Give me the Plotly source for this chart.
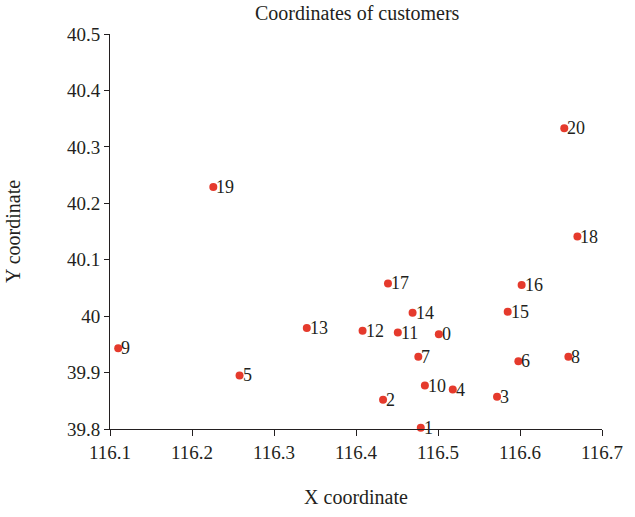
import plotly.graph_objects as go

ids = [str(i) for i in range(21)]
x_vals = [116.501, 116.479, 116.433, 116.572, 116.518, 116.258, 116.598, 116.476,
          116.659, 116.110, 116.484, 116.451, 116.408, 116.340, 116.469, 116.585,
          116.602, 116.439, 116.670, 116.226, 116.654]
y_vals = [39.968, 39.802, 39.852, 39.857, 39.870, 39.895, 39.920, 39.928,
          39.928, 39.943, 39.877, 39.971, 39.974, 39.979, 40.006, 40.008,
          40.055, 40.058, 40.141, 40.229, 40.333]

x_ticks = [116.1, 116.2, 116.3, 116.4, 116.5, 116.6, 116.7]
x_tick_text = ["116.1", "116.2", "116.3", "116.4", "116.5", "116.6", "116.7"]
y_ticks = [39.8, 39.9, 40.0, 40.1, 40.2, 40.3, 40.4, 40.5]
y_tick_text = ["39.8", "39.9", "40", "40.1", "40.2", "40.3", "40.4", "40.5"]

FONT = "Liberation Serif"
INK = "#231f20"

fig = go.Figure()
fig.add_trace(go.Scatter(
    x=x_vals, y=y_vals, mode="markers",
    marker=dict(color="#e53a2c", size=8),
    cliponaxis=False, showlegend=False,
))

for xv, yv, t in zip(x_vals, y_vals, ids):
    fig.add_annotation(x=xv, y=yv, text=t, showarrow=False, xanchor="left",
                       yanchor="middle", xshift=1, yshift=0,
                       font=dict(family=FONT, size=18, color=INK))

fig.update_layout(
    width=635, height=517,
    margin=dict(l=110, r=23, t=34, b=87),
    paper_bgcolor="white", plot_bgcolor="white",
    font=dict(family=FONT, size=18, color=INK),
    title=dict(text="Coordinates of customers", x=0.5625, xanchor="center",
               y=0.975, yanchor="middle", font=dict(family=FONT, size=20, color=INK)),
)
fig.update_xaxes(
    range=[116.1, 116.7], tickvals=x_ticks, ticktext=x_tick_text,
    showgrid=False, zeroline=False, showline=True, linecolor=INK, linewidth=1,
    ticks="outside", ticklen=6, tickcolor=INK,
    tickfont=dict(family=FONT, size=19, color=INK),
    title=dict(text="X coordinate", font=dict(family=FONT, size=20, color=INK), standoff=28),
)
fig.update_yaxes(
    range=[39.8, 40.5], tickvals=y_ticks, ticktext=y_tick_text,
    showgrid=False, zeroline=False, showline=True, linecolor=INK, linewidth=1,
    ticks="outside", ticklen=5, tickcolor=INK,
    tickfont=dict(family=FONT, size=19, color=INK),
    title=dict(text="Y coordinate", font=dict(family=FONT, size=20, color=INK), standoff=40),
)

fig.write_html("out.html", config={"displayModeBar": False},
               post_script="document.body.style.margin='0';")
